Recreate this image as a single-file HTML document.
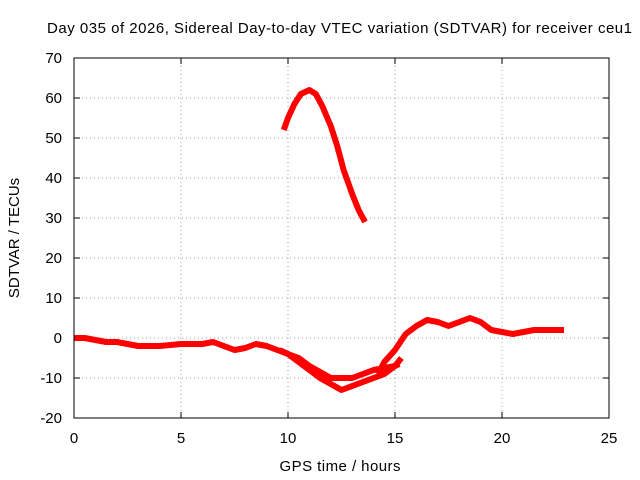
<!DOCTYPE html>
<html><head><meta charset="utf-8"><style>
body{margin:0;background:#fff}
svg{display:block;font-family:"Liberation Sans",sans-serif}
</style></head><body>
<svg id="chart" width="640" height="480" viewBox="0 0 640 480">
<rect width="640" height="480" fill="#fff"/>
<text x="47" y="33" font-size="15" textLength="585" lengthAdjust="spacing">Day 035 of 2026, Sidereal Day-to-day VTEC variation (SDTVAR) for receiver ceu1</text>
<text x="340" y="471" font-size="15" text-anchor="middle" textLength="121">GPS time / hours</text>
<text transform="translate(19,238) rotate(-90)" font-size="15" text-anchor="middle">SDTVAR / TECUs</text>
<g id="grid"></g><g id="series"></g>
<rect x="74" y="58" width="535" height="360" fill="none" stroke="#000" stroke-width="1"/>
</svg>
<script>
const xTicks=[0,5,10,15,20,25];
const yTicks=[-20,-10,0,10,20,30,40,50,60,70];
const arcHours=[9.8,10,10.3,10.6,11,11.3,11.6,12,12.3,12.6,13,13.3,13.6];
const arcValues=[52,55,58.5,61,62,61,58,53,48,42,36,32,29];
const baseHours=[0,0.5,1,1.5,2,2.5,3,4,5,6,6.5,7,7.5,8,8.5,9,9.5,10,10.5,11,11.5,12,12.5,13,13.5,14,14.5,15,15.2];
const baseValues=[0,0,-0.5,-1,-1,-1.5,-2,-2,-1.5,-1.5,-1,-2,-3,-2.5,-1.5,-2,-3,-4,-5,-7,-8.5,-10,-10,-10,-9,-8,-7.5,-7,-6.5];
const branchHours=[9.6,10,10.5,11,11.5,12,12.5,13,13.5,14,14.5,15,15.3];
const branchValues=[-3,-4,-6,-8,-10,-11.5,-13,-12,-11,-10,-9,-7,-5];
const lateHours=[14.2,14.5,15,15.5,16,16.5,17,17.5,18,18.5,19,19.5,20,20.5,21,21.5,22,22.5,22.9];
const lateValues=[-9,-6,-3,1,3,4.5,4,3,4,5,4,2,1.5,1,1.5,2,2,2,2];
const X=v=>74+v*(535/25), Y=v=>338-v*4;
const NS='http://www.w3.org/2000/svg';
const grid=document.getElementById('grid'), ser=document.getElementById('series');
function mk(tag,attrs,parent){const e=document.createElementNS(NS,tag);for(const k in attrs)e.setAttribute(k,attrs[k]);parent.appendChild(e);return e;}
xTicks.forEach(t=>{
 const x=X(t);
 if(t>0&&t<25){const g=mk('line',{x1:x,y1:58,x2:x,y2:418,stroke:'#a0a0a0','stroke-dasharray':'1,3'},grid);
 
 }
 mk('line',{x1:x,y1:418,x2:x,y2:412,stroke:'#000'},grid);
 mk('line',{x1:x,y1:58,x2:x,y2:64,stroke:'#000'},grid);
 const l=mk('text',{x:x,y:443,'font-size':15,'text-anchor':'middle'},grid);l.textContent=t;
 
 
});
yTicks.forEach(t=>{
 const y=Y(t);
 if(t>-20&&t<70){const g=mk('line',{x1:74,y1:y,x2:609,y2:y,stroke:'#a0a0a0','stroke-dasharray':'1,3'},grid);
 
 }
 mk('line',{x1:74,y1:y,x2:80,y2:y,stroke:'#000'},grid);
 mk('line',{x1:609,y1:y,x2:603,y2:y,stroke:'#000'},grid);
 const l=mk('text',{x:62,y:y+5,'font-size':15,'text-anchor':'end'},grid);l.textContent=t;
 
 
});
function series(h,v,name){
 const p=mk('polyline',{points:h.map((a,i)=>X(a)+','+Y(v[i])).join(' '),fill:'none',stroke:'#ff0000','stroke-width':6,'stroke-linejoin':'round'},ser);
 
 
}
series(baseHours,baseValues,'series-baseline');
series(branchHours,branchValues,'series-branch');
series(lateHours,lateValues,'series-late');
series(arcHours,arcValues,'series-arc');
</script>
</body></html>
